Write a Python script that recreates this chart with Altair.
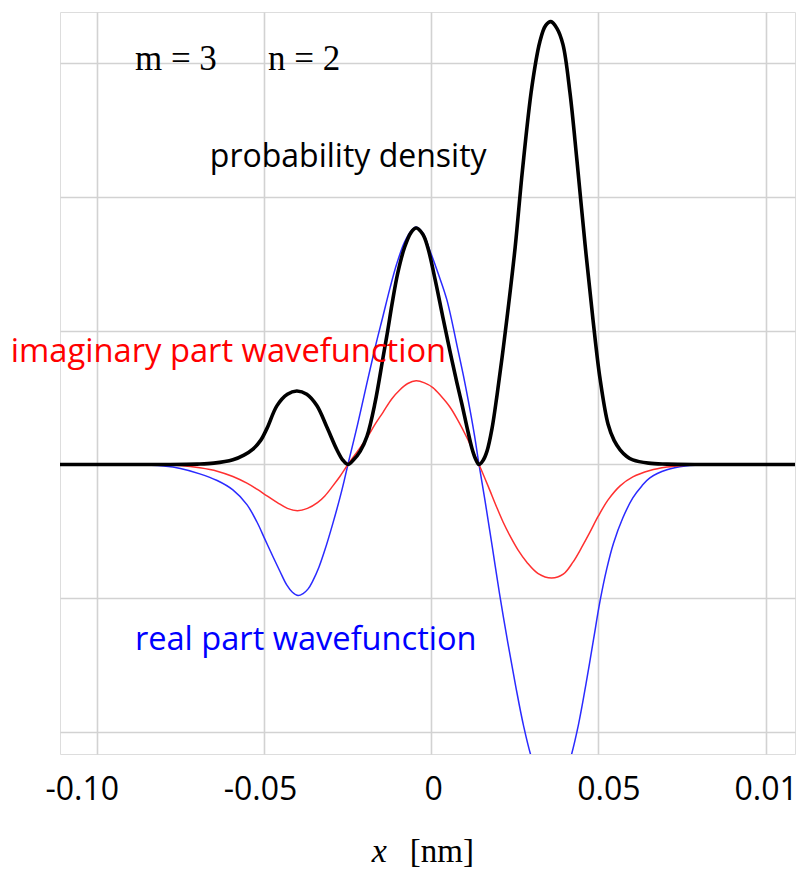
import altair as alt
import pandas as pd

# ---- curve samples (x in nm) ----
dens_x = [-0.111, -0.080, -0.070, -0.065, -0.0593, -0.0560, -0.0533, -0.0510,
          -0.0491, -0.0461, -0.0430, -0.0402, -0.0372, -0.0342, -0.0312, -0.0282,
          -0.0265, -0.0249, -0.0232, -0.0212, -0.0192, -0.0168, -0.0144, -0.0130,
          -0.0117, -0.0100, -0.0080, -0.0060, -0.0045, -0.0025, -0.0010, 0.0012,
          0.0035, 0.0056, 0.0077, 0.0092, 0.0107, 0.0122, 0.0133, 0.0143,
          0.0155, 0.0167, 0.0182, 0.0197, 0.0212, 0.0227, 0.0251, 0.0273,
          0.0301, 0.0325, 0.0342, 0.0358, 0.0376, 0.0394, 0.0415, 0.0436,
          0.0460, 0.0484, 0.0505, 0.0529, 0.0547, 0.0565, 0.0585, 0.0603,
          0.0650, 0.0705, 0.0800, 0.1088]
dens_y = [0.0, 0.0, 0.003, 0.01, 0.035, 0.07, 0.115, 0.18,
          0.27, 0.44, 0.525, 0.549, 0.525, 0.44, 0.28, 0.11,
          0.035, 0.0, 0.035, 0.10, 0.21, 0.46, 0.80, 1.00,
          1.20, 1.43, 1.62, 1.735, 1.767, 1.72, 1.62, 1.38,
          1.10, 0.85, 0.61, 0.45, 0.28, 0.12, 0.04, 0.0,
          0.03, 0.10, 0.27, 0.52, 0.80, 1.10, 1.62, 2.20,
          2.82, 3.16, 3.28, 3.31, 3.26, 3.14, 2.78, 2.27,
          1.65, 1.08, 0.64, 0.30, 0.18, 0.11, 0.06, 0.034,
          0.01, 0.003, 0.0, 0.0]

re_x = [-0.111, -0.088, -0.080, -0.075, -0.0692, -0.0640, -0.0593, -0.0551,
        -0.0521, -0.0497, -0.0473, -0.0452, -0.0432, -0.0415, -0.0398, -0.0383,
        -0.0368, -0.0354, -0.0336, -0.0318, -0.0294, -0.0273, -0.0261, -0.0249,
        -0.0220, -0.0192, -0.0168, -0.0144, -0.0123, -0.0103, -0.0080, -0.0060,
        -0.0045, -0.0025, -0.0004, 0.0022, 0.0047, 0.0080, 0.0100, 0.0116,
        0.0130, 0.0143, 0.0161, 0.0183, 0.0204, 0.0229, 0.0253, 0.0276,
        0.0300, 0.0325, 0.0358, 0.0391, 0.0416, 0.0440, 0.0463, 0.0486,
        0.0505, 0.0525, 0.0545, 0.0573, 0.0603, 0.0630, 0.0654, 0.0705,
        0.0760, 0.0830, 0.1088]
re_y = [0.0, 0.0, -0.012, -0.03, -0.07, -0.12, -0.19, -0.30,
        -0.43, -0.56, -0.69, -0.80, -0.90, -0.955, -0.98, -0.965,
        -0.93, -0.87, -0.77, -0.64, -0.44, -0.25, -0.13, 0.0,
        0.30, 0.61, 0.87, 1.11, 1.32, 1.50, 1.66, 1.745,
        1.775, 1.73, 1.60, 1.42, 1.23, 0.856, 0.62, 0.41,
        0.21, 0.0, -0.27, -0.62, -0.96, -1.33, -1.66, -1.95,
        -2.19, -2.35, -2.43, -2.37, -2.20, -1.95, -1.64, -1.30,
        -1.02, -0.78, -0.59, -0.40, -0.25, -0.16, -0.10, -0.04,
        -0.012, 0.0, 0.0]

im_x = [-0.111, -0.082, -0.075, -0.0692, -0.0640, -0.0593, -0.0551, -0.0521,
        -0.0491, -0.0460, -0.0430, -0.0400, -0.0370, -0.0340, -0.0318, -0.0294,
        -0.0273, -0.0249, -0.0220, -0.0192, -0.0168, -0.0144, -0.0118, -0.0094,
        -0.0070, -0.0045, -0.0020, 0.0005, 0.0030, 0.0056, 0.0080, 0.0107,
        0.0125, 0.0143, 0.0170, 0.0196, 0.0215, 0.0235, 0.0260, 0.0286,
        0.0320, 0.0360, 0.0395, 0.0424, 0.0450, 0.0474, 0.0500, 0.0529,
        0.0565, 0.0603, 0.0654, 0.0705, 0.0760, 0.0800, 0.1088]
im_y = [0.0, 0.0, -0.008, -0.025, -0.05, -0.09, -0.14, -0.185,
        -0.235, -0.285, -0.328, -0.345, -0.328, -0.285, -0.235, -0.16,
        -0.09, 0.0, 0.10, 0.20, 0.30, 0.39, 0.49, 0.557,
        0.605, 0.625, 0.610, 0.575, 0.51, 0.43, 0.33, 0.20,
        0.10, 0.0, -0.16, -0.32, -0.43, -0.53, -0.64, -0.73,
        -0.815, -0.848, -0.82, -0.73, -0.62, -0.51, -0.385, -0.265,
        -0.16, -0.093, -0.045, -0.019, -0.005, 0.0, 0.0]

# ---- axis ticks ----
x_ticks = [-0.10, -0.05, 0.0, 0.05, 0.10]
x_tick_labels = ["-0.10", "-0.05", "0", "0.05", "0.01"]
x_label_shift = [-15, -4, 2, 10, 0]
y_ticks = [-2, -1, 0, 1, 2, 3]

X_DOMAIN = [-0.111, 0.1088]
Y_DOMAIN = [-2.164, 3.382]


def is_tick(v):
    return f"abs(datum.value - ({v})) < 1e-9"


label_expr = "".join(
    f"{is_tick(v)} ? '{t}' : " for v, t in zip(x_ticks, x_tick_labels)
) + "''"
label_offset = {
    "condition": [{"test": is_tick(v), "value": s} for v, s in zip(x_ticks, x_label_shift)],
    "value": 0,
}

GRID = "#d2d2d2"

x_enc = alt.X(
    "x:Q",
    scale=alt.Scale(domain=X_DOMAIN, nice=False, zero=False),
    axis=alt.Axis(
        values=x_ticks, labelExpr=label_expr, labelOffset=label_offset, title=None,
        labelFont="Open Sans", labelFontSize=32, labelColor="black",
        labelBaseline="alphabetic", labelPadding=45, labelFlush=False,
        labelOverlap=False, labelBound=False,
        ticks=False, tickSize=0, domain=False,
        grid=True, gridColor=GRID, gridWidth=1.6,
    ),
)
y_enc = alt.Y(
    "y:Q",
    scale=alt.Scale(domain=Y_DOMAIN, nice=False, zero=False),
    axis=alt.Axis(
        values=y_ticks, labels=False, ticks=False, tickSize=0, domain=False,
        title=None, grid=True, gridColor=GRID, gridWidth=1.6,
    ),
)


def curve(xs, ys, color, width):
    df = pd.DataFrame({"x": xs, "y": ys})
    return alt.Chart(df).mark_line(
        color=color, strokeWidth=width, interpolate="catmull-rom", clip=True
    ).encode(x=x_enc, y=y_enc)


real_line = curve(re_x, re_y, "#2a2aff", 1.5)
imag_line = curve(im_x, im_y, "#ff3030", 1.5)
dens_line = curve(dens_x, dens_y, "black", 3.6)


def label(text, x, y, color, font, size, style="normal"):
    return alt.Chart(pd.DataFrame({"label": [text]})).mark_text(
        align="left", baseline="alphabetic", font=font, fontSize=size,
        color=color, fontStyle=style,
    ).encode(x=alt.datum(x), y=alt.datum(y), text="label:N")


sans = "Open Sans"
serif = "Liberation Serif"
labels = [
    label("m = 3", -0.0886, 2.948, "black", serif, 35),
    label("n = 2", -0.0488, 2.948, "black", serif, 35),
    label("probability density", -0.0662, 2.227, "black", sans, 32),
    label("imaginary part wavefunction", -0.1257, 0.768, "#ff0000", sans, 32.7),
    label("real part wavefunction", -0.0886, -1.386, "#0000ff", sans, 32.6),
    label("x", -0.0178, -2.971, "black", serif, 34, "italic"),
    label("[nm]", -0.0064, -2.971, "black", serif, 33),
]

chart = alt.layer(real_line, imag_line, dens_line, *labels).properties(
    width=735,
    height=742,
    autosize=alt.AutoSizeParams(type="none"),
    padding={"left": 60, "top": 12, "right": 8, "bottom": 116},
).configure_view(stroke="transparent").configure(background="white")

chart.save("out.html", embed_options={"renderer": "svg", "actions": False})
